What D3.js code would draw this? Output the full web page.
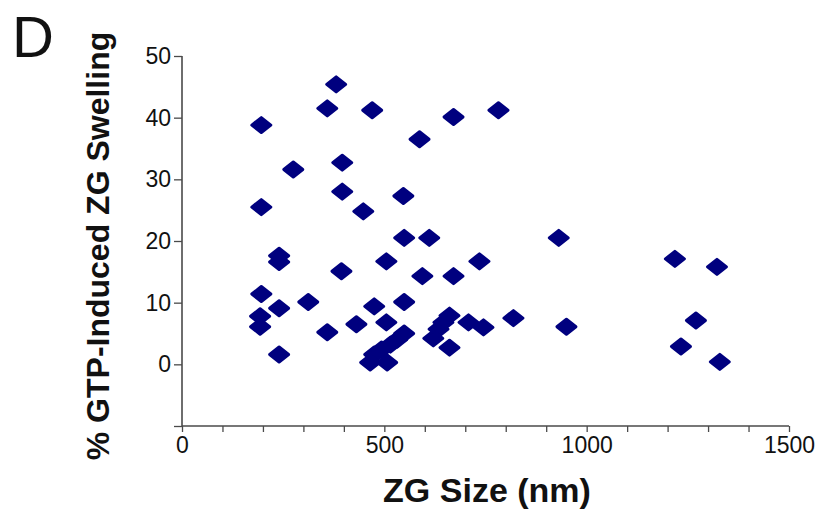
<!DOCTYPE html>
<html>
<head>
<meta charset="utf-8">
<script src="https://cdn.jsdelivr.net/npm/d3@7"></script>
<style>
  html, body { margin: 0; padding: 0; background: #fff; }
  svg { display: block; font-family: "Liberation Sans", Arial, sans-serif; }
</style>
</head>
<body>
<svg id="chart" width="821" height="512"></svg>
<script>
// ZG size (nm) per granule
const zgSize = [
  381, 359, 470, 196, 782, 671, 587, 396, 275, 396,
  547, 196, 448, 549, 611, 931, 240, 240, 505, 735,
  394, 594, 671, 1218, 1322, 196, 312, 549, 475, 240,
  193, 193, 359, 431, 505, 240, 819, 950, 745, 708,
  661, 646, 634, 621, 661, 1270, 1233, 1329, 549, 532,
  515, 493, 475, 465, 507
];
// % GTP-induced ZG swelling per granule
const swelling = [
  45.4, 41.5, 41.2, 38.8, 41.2, 40.1, 36.5, 32.7, 31.6, 28.0,
  27.3, 25.5, 24.8, 20.5, 20.5, 20.5, 17.6, 16.6, 16.7, 16.7,
  15.1, 14.3, 14.3, 17.1, 15.8, 11.4, 10.1, 10.1, 9.4, 9.1,
  7.8, 6.1, 5.2, 6.5, 6.8, 1.6, 7.5, 6.1, 6.0, 6.8,
  7.9, 6.8, 5.7, 4.2, 2.7, 7.1, 2.9, 0.4, 5.0, 4.0,
  3.2, 2.4, 1.6, 0.3, 0.3
];
const xTicks = [0, 100, 200, 300, 400, 500, 600, 700, 800, 900, 1000, 1100, 1200, 1300, 1400, 1500];
const xTickLabels = [0, 500, 1000, 1500];
const yTicks = [-10, 0, 10, 20, 30, 40, 50];
const yTickLabels = [0, 10, 20, 30, 40, 50];
const panelLabel = "D";
const xTitle = "ZG Size (nm)";
const yTitle = "% GTP-Induced ZG Swelling";

const data = zgSize.map((s, i) => ({ x: s, y: swelling[i] }));

const svg = d3.select("#chart");
const x = d3.scaleLinear().domain([0, 1500]).range([182, 789]);
const y = d3.scaleLinear().domain([-10, 50]).range([426, 56]);
const axisColor = "#4a4a4a";
const markColor = "#00007f";

// X axis
const xAxis = d3.axisBottom(x)
  .tickValues(xTicks)
  .tickSize(6)
  .tickPadding(5)
  .tickFormat(d => xTickLabels.includes(d) ? d3.format("d")(d) : "");
const gx = svg.append("g").attr("transform", `translate(0,${y(-10)})`).call(xAxis);

// Y axis
const yAxis = d3.axisLeft(y)
  .tickValues(yTicks)
  .tickSize(8)
  .tickPadding(3)
  .tickFormat(d => yTickLabels.includes(d) ? d3.format("d")(d) : "");
const gy = svg.append("g").attr("transform", `translate(${x(0)},0)`).call(yAxis);

[gx, gy].forEach(g => {
  g.select(".domain").attr("stroke", axisColor).attr("stroke-width", 1.6);
  g.selectAll(".tick line").attr("stroke", axisColor).attr("stroke-width", 1.3);
  g.selectAll(".tick text")
    .attr("fill", "#111")
    .style("font-size", "23px")
    .style("font-family", "'Liberation Sans', Arial, sans-serif");
});
gx.select(".domain").attr("d", `M${x(0)},0H${x(1500)}`);
gy.select(".domain").attr("d", `M0,${y(50)}V${y(-10)}`);

// Diamonds
const hw = 9.5, hh = 7.5;
svg.append("g").selectAll("path.pt")
  .data(data)
  .join("path")
  .attr("class", "pt")
  .attr("d", d => {
    const cx = x(d.x), cy = y(d.y);
    return `M${cx - hw},${cy}L${cx},${cy - hh}L${cx + hw},${cy}L${cx},${cy + hh}Z`;
  })
  .attr("fill", markColor)
  .attr("stroke", markColor)
  .attr("stroke-width", 3)
  .attr("stroke-linejoin", "round");

// Titles
svg.append("text")
  .attr("x", 487).attr("y", 502)
  .attr("text-anchor", "middle")
  .style("font-size", "34px").style("font-weight", "bold")
  .attr("fill", "#111")
  .text(xTitle);

svg.append("text")
  .attr("transform", "translate(109,246) rotate(-90)")
  .attr("text-anchor", "middle")
  .style("font-size", "32px").style("font-weight", "bold")
  .attr("fill", "#111")
  .text(yTitle);

svg.append("text")
  .attr("x", 12).attr("y", 57)
  .style("font-size", "58px")
  .attr("fill", "#111")
  .text(panelLabel);
</script>
</body>
</html>
